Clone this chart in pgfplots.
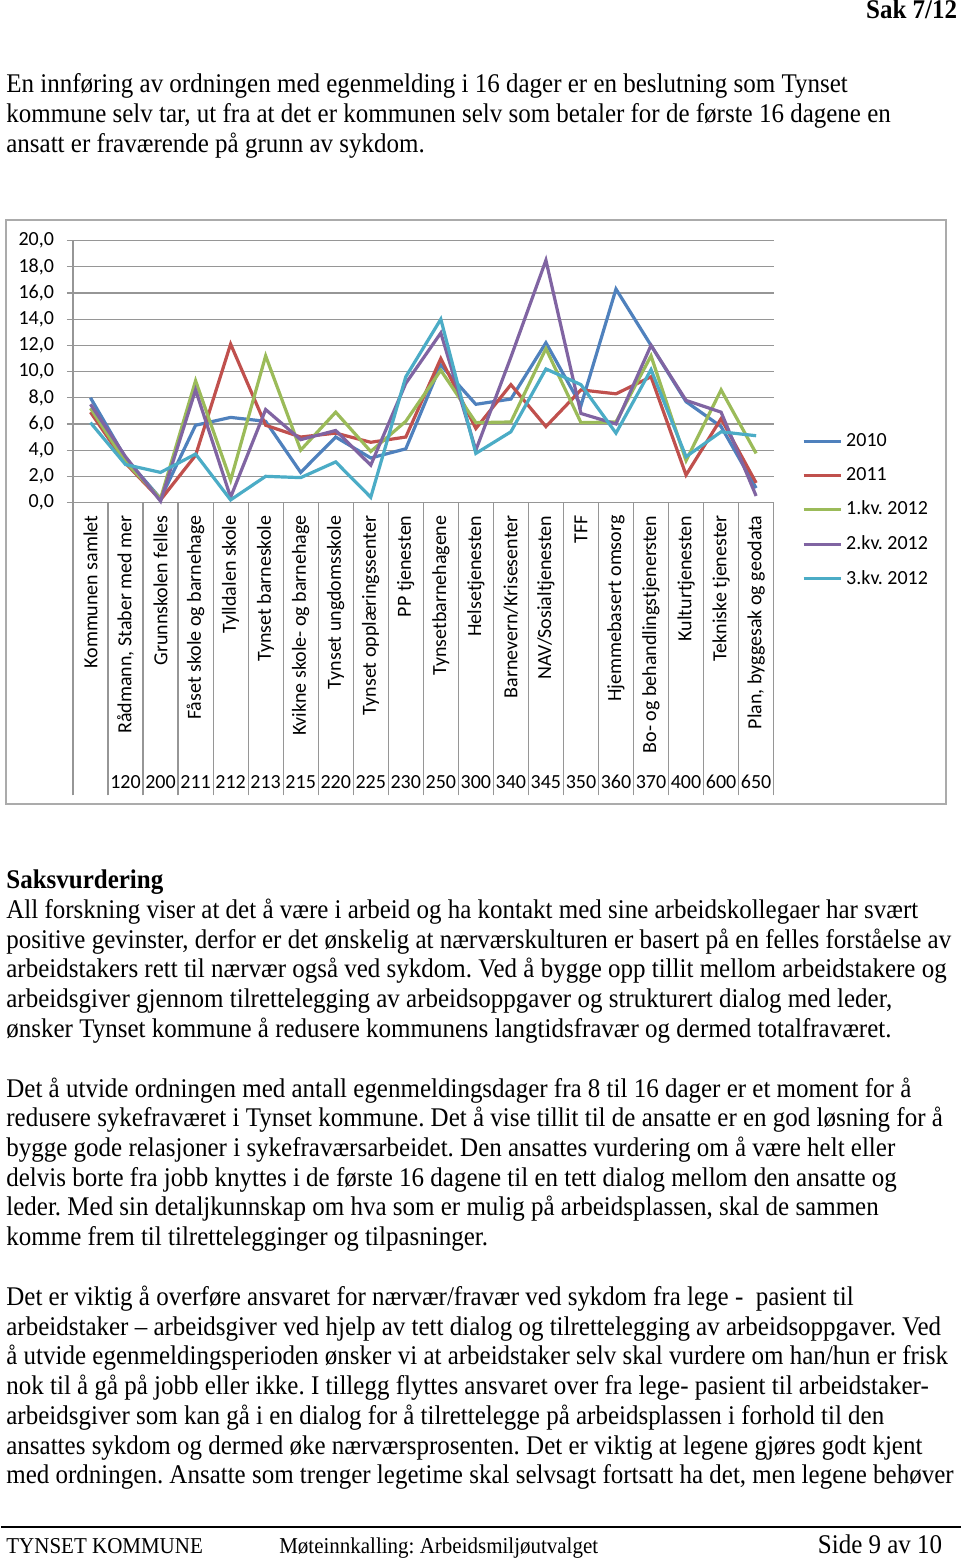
\documentclass[border=0pt]{standalone}
\usepackage{pgfplots}
\pgfplotsset{compat=1.18}
\usepackage{fontspec}
\setmainfont{Liberation Serif}
\newfontfamily\chartfont{Carlito}
\definecolor{c1}{HTML}{4F81BD}
\definecolor{c2}{HTML}{C0504D}
\definecolor{c3}{HTML}{9BBB59}
\definecolor{c4}{HTML}{8064A2}
\definecolor{c5}{HTML}{4BACC6}
\definecolor{gridc}{RGB}{150,150,150}
\newcommand\vs[1]{\scalebox{1}[1.08]{#1}}
\newcommand\bodyf{\fontsize{12.5}{15}\selectfont}
\newcommand\cf{\chartfont\fontsize{10}{12}\selectfont}
\frenchspacing
\begin{document}
\frenchspacing
\begin{tikzpicture}[x=0.5pt,y=-0.5pt]
\fill[white] (0,0) rectangle (960,1561);
% header
\node[anchor=base east, inner sep=0, font=\bodyf\bfseries] at (957,18) {\vs{Sak 7/12}};
\node[anchor=base west, inner sep=0, font=\bodyf] at (5,92) {\vs{En innføring av ordningen med egenmelding i 16 dager er en beslutning som Tynset}};
\node[anchor=base west, inner sep=0, font=\bodyf] at (5,122) {\vs{kommune selv tar, ut fra at det er kommunen selv som betaler for de første 16 dagene en}};
\node[anchor=base west, inner sep=0, font=\bodyf] at (5,152) {\vs{ansatt er fraværende på grunn av sykdom.}};
% chart frame
\draw[gridc!80, line width=1pt] (5,219) rectangle (945,804);
\begin{axis}[
  at={(36pt,-251pt)}, anchor=south west, scale only axis,
  width=350.5pt, height=131pt,
  xmin=-0.5, xmax=19.5, ymin=0, ymax=20,
  axis lines*=left,
  axis line style={gridc, line width=0.6pt},
  ytick={0,2,...,20},
  ymajorgrids, grid style={gridc, line width=0.6pt},
  major tick length=3pt, tick align=outside,
  major tick style={gridc, line width=0.6pt},
  yticklabel style={font=\cf, xshift=-3pt, /pgf/number format/.cd, fixed, fixed zerofill, precision=1, use comma, assume math mode=true},
  xtick={0,...,19},
  major x tick style={draw=none},
  minor xtick={-0.5,0.5,...,19.5},
  minor tick length=146.5pt,
  minor x tick style={gridc, line width=0.6pt},
  xticklabels={{Kommunen samlet},{Rådmann, Staber med mer},{Grunnskolen felles},{Fåset skole og barnehage},{Tylldalen skole},{Tynset barneskole},{Kvikne skole- og barnehage},{Tynset ungdomsskole},{Tynset opplæringssenter},{PP tjenesten},{Tynsetbarnehagene},{Helsetjenesten},{Barnevern/Krisesenter},{NAV/Sosialtjenesten},{TFF},{Hjemmebasert omsorg},{Bo- og behandlingstjenersten},{Kulturtjenesten},{Tekniske tjenester},{Plan, byggesak og geodata}},
  xticklabel style={rotate=90, anchor=east, font=\cf},
  clip=false,
  legend style={at={(1.04,0.28)}, anchor=north west, draw=none, fill=none, font=\cf, row sep=4.9pt, inner sep=0pt},
  legend cell align=left,
  legend image code/.code={\draw[#1, line width=1.6pt] (0pt,0pt) -- (18.5pt,0pt);},
  every axis plot/.append style={line width=1.6pt, no markers},
]
\addplot[c1] coordinates {(0,8.0)(1,3.4)(2,0.3)(3,5.9)(4,6.5)(5,6.2)(6,2.3)(7,5.0)(8,3.4)(9,4.1)(10,10.5)(11,7.5)(12,7.9)(13,12.2)(14,7.4)(15,16.3)(16,12.0)(17,7.7)(18,5.8)(19,1.1)};
\addlegendentry{2010}
\addplot[c2] coordinates {(0,6.9)(1,3.0)(2,0.2)(3,3.6)(4,12.1)(5,5.9)(6,5.0)(7,5.3)(8,4.6)(9,5.0)(10,11.0)(11,5.65)(12,9.0)(13,5.8)(14,8.6)(15,8.3)(16,9.6)(17,2.1)(18,6.4)(19,1.5)};
\addlegendentry{2011}
\addplot[c3] coordinates {(0,7.2)(1,3.1)(2,0.3)(3,9.3)(4,1.7)(5,11.2)(6,4.0)(7,6.9)(8,3.9)(9,6.2)(10,10.1)(11,6.1)(12,6.15)(13,11.75)(14,6.1)(15,6.15)(16,11.2)(17,3.2)(18,8.6)(19,3.75)};
\addlegendentry{1.kv. 2012}
\addplot[c4] coordinates {(0,7.5)(1,3.5)(2,0.1)(3,8.6)(4,0.4)(5,7.1)(6,4.8)(7,5.5)(8,2.85)(9,9.1)(10,12.95)(11,4.0)(12,11.1)(13,18.5)(14,6.8)(15,6.0)(16,12.0)(17,7.8)(18,6.9)(19,0.5)};
\addlegendentry{2.kv. 2012}
\addplot[c5] coordinates {(0,6.1)(1,2.9)(2,2.3)(3,3.7)(4,0.2)(5,2.0)(6,1.9)(7,3.1)(8,0.4)(9,9.6)(10,14.0)(11,3.75)(12,5.4)(13,10.2)(14,9.0)(15,5.3)(16,10.15)(17,3.5)(18,5.4)(19,5.1)};
\addlegendentry{3.kv. 2012}
\foreach \i/\n in {1/120,2/200,3/211,4/212,5/213,6/215,7/220,8/225,9/230,10/250,11/300,12/340,13/345,14/350,15/360,16/370,17/400,18/600,19/650}{
  \edef\tmp{\noexpand\node[font=\noexpand\cf, anchor=base, inner sep=0pt, yshift=-143pt] at (axis cs:\i,0) {\n};}\tmp
}
\end{axis}
% body text
\node[anchor=base west, inner sep=0, font=\bodyf\bfseries] at (5,888) {\vs{Saksvurdering}};
\node[anchor=base west, inner sep=0, font=\bodyf] at (5,918) {\vs{All forskning viser at det å være i arbeid og ha kontakt med sine arbeidskollegaer har svært}};
\node[anchor=base west, inner sep=0, font=\bodyf] at (5,948) {\vs{positive gevinster, derfor er det ønskelig at nærværskulturen er basert på en felles forståelse av}};
\node[anchor=base west, inner sep=0, font=\bodyf] at (5,977) {\vs{arbeidstakers rett til nærvær også ved sykdom. Ved å bygge opp tillit mellom arbeidstakere og}};
\node[anchor=base west, inner sep=0, font=\bodyf] at (5,1007) {\vs{arbeidsgiver gjennom tilrettelegging av arbeidsoppgaver og strukturert dialog med leder,}};
\node[anchor=base west, inner sep=0, font=\bodyf] at (5,1037) {\vs{ønsker Tynset kommune å redusere kommunens langtidsfravær og dermed totalfraværet.}};
\node[anchor=base west, inner sep=0, font=\bodyf] at (5,1097) {\vs{Det å utvide ordningen med antall egenmeldingsdager fra 8 til 16 dager er et moment for å}};
\node[anchor=base west, inner sep=0, font=\bodyf] at (5,1126) {\vs{redusere sykefraværet i Tynset kommune. Det å vise tillit til de ansatte er en god løsning for å}};
\node[anchor=base west, inner sep=0, font=\bodyf] at (5,1156) {\vs{bygge gode relasjoner i sykefraværsarbeidet. Den ansattes vurdering om å være helt eller}};
\node[anchor=base west, inner sep=0, font=\bodyf] at (5,1186) {\vs{delvis borte fra jobb knyttes i de første 16 dagene til en tett dialog mellom den ansatte og}};
\node[anchor=base west, inner sep=0, font=\bodyf] at (5,1215) {\vs{leder. Med sin detaljkunnskap om hva som er mulig på arbeidsplassen, skal de sammen}};
\node[anchor=base west, inner sep=0, font=\bodyf] at (5,1245) {\vs{komme frem til tilrettelegginger og tilpasninger.}};
\node[anchor=base west, inner sep=0, font=\bodyf] at (5,1305) {\vs{Det er viktig å overføre ansvaret for nærvær/fravær ved sykdom fra lege -\ \ pasient til}};
\node[anchor=base west, inner sep=0, font=\bodyf] at (5,1335) {\vs{arbeidstaker – arbeidsgiver ved hjelp av tett dialog og tilrettelegging av arbeidsoppgaver. Ved}};
\node[anchor=base west, inner sep=0, font=\bodyf] at (5,1364) {\vs{å utvide egenmeldingsperioden ønsker vi at arbeidstaker selv skal vurdere om han/hun er frisk}};
\node[anchor=base west, inner sep=0, font=\bodyf] at (5,1394) {\vs{nok til å gå på jobb eller ikke. I tillegg flyttes ansvaret over fra lege- pasient til arbeidstaker-}};
\node[anchor=base west, inner sep=0, font=\bodyf] at (5,1424) {\vs{arbeidsgiver som kan gå i en dialog for å tilrettelegge på arbeidsplassen i forhold til den}};
\node[anchor=base west, inner sep=0, font=\bodyf] at (5,1454) {\vs{ansattes sykdom og dermed øke nærværsprosenten. Det er viktig at legene gjøres godt kjent}};
\node[anchor=base west, inner sep=0, font=\bodyf] at (5,1483) {\vs{med ordningen. Ansatte som trenger legetime skal selvsagt fortsatt ha det, men legene behøver}};
% footer
\draw[black, line width=1pt] (0,1527) -- (960,1527);
\node[anchor=base west, inner sep=0, font=\fontsize{10.5}{12}\selectfont] at (5,1553) {\vs{TYNSET KOMMUNE}};
\node[anchor=base west, inner sep=0, font=\fontsize{10.5}{12}\selectfont] at (278,1553) {\vs{Møteinnkalling: Arbeidsmiljøutvalget}};
\node[anchor=base east, inner sep=0, font=\bodyf] at (942,1553) {\vs{Side 9 av 10}};
\end{tikzpicture}
\end{document}
